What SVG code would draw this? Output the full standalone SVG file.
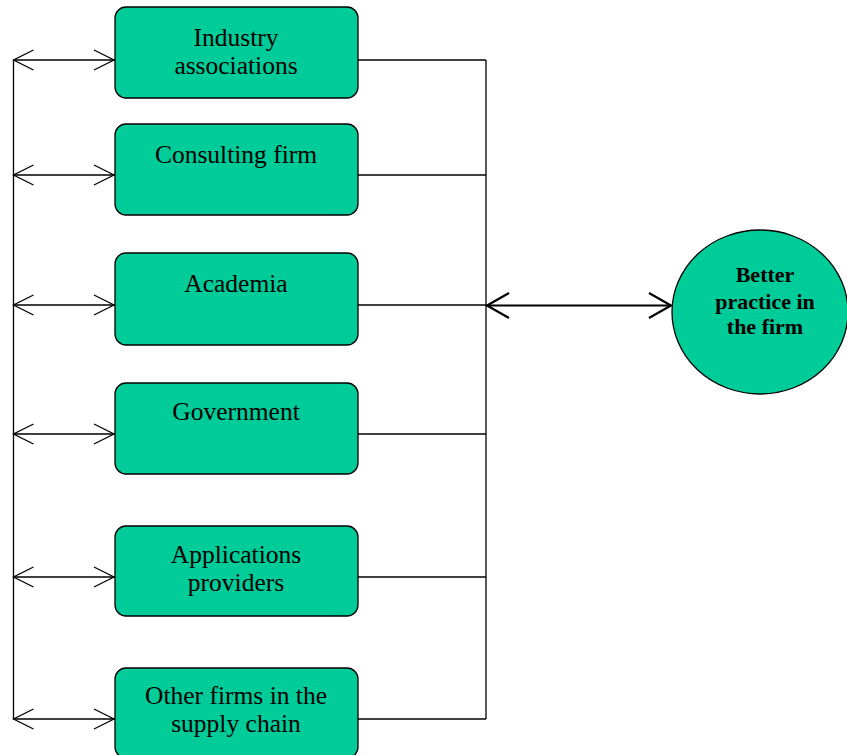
<svg xmlns="http://www.w3.org/2000/svg" width="847" height="755" viewBox="0 0 847 755">
<style>
.box{fill:#00CC99;stroke:#000;stroke-width:1.3}
.t{font-family:"Liberation Serif",serif;font-size:25.5px;text-anchor:middle;fill:#000}
.tb{font-family:"Liberation Serif",serif;font-size:22px;font-weight:bold;text-anchor:middle;fill:#000}
.ln{stroke:#000;stroke-width:1.3;fill:none}
.ah{stroke:#000;stroke-width:1.3;fill:none}
.lnb{stroke:#000;stroke-width:2.2;fill:none}
</style>
<rect width="847" height="755" fill="#fff"/>
<g id="connectors">
<line class="ln" x1="13.5" y1="60" x2="13.5" y2="719"/>
<line class="ln" x1="486" y1="60" x2="486" y2="719"/>
<g id="left-links">
<line class="ln" x1="13.5" y1="60" x2="115" y2="60"/>
<line class="ln" x1="13.5" y1="175" x2="115" y2="175"/>
<line class="ln" x1="13.5" y1="305" x2="115" y2="305"/>
<line class="ln" x1="13.5" y1="434" x2="115" y2="434"/>
<line class="ln" x1="13.5" y1="577" x2="115" y2="577"/>
<line class="ln" x1="13.5" y1="719" x2="115" y2="719"/>
<path class="ah" d="M33.5,50 L13.5,60 L33.5,70 M94,50 L114,60 L94,70"/>
<path class="ah" d="M33.5,165 L13.5,175 L33.5,185 M94,165 L114,175 L94,185"/>
<path class="ah" d="M33.5,295 L13.5,305 L33.5,315 M94,295 L114,305 L94,315"/>
<path class="ah" d="M33.5,424 L13.5,434 L33.5,444 M94,424 L114,434 L94,444"/>
<path class="ah" d="M33.5,567 L13.5,577 L33.5,587 M94,567 L114,577 L94,587"/>
<path class="ah" d="M33.5,709 L13.5,719 L33.5,729 M94,709 L114,719 L94,729"/>
</g>
<g id="right-links">
<line class="ln" x1="358" y1="60" x2="486" y2="60"/>
<line class="ln" x1="358" y1="175" x2="486" y2="175"/>
<line class="ln" x1="358" y1="305" x2="486" y2="305"/>
<line class="ln" x1="358" y1="434" x2="486" y2="434"/>
<line class="ln" x1="358" y1="577" x2="486" y2="577"/>
<line class="ln" x1="358" y1="719" x2="486" y2="719"/>
</g>
<g id="main-link">
<line class="lnb" x1="487" y1="305.5" x2="671" y2="305.5"/>
<path class="lnb" d="M509,293 L487,305.5 L509,318 M649,293 L671,305.5 L649,318"/>
</g>
</g>
<g id="n1"><rect class="box" x="115" y="7" width="243" height="91" rx="11"/><text class="t" x="236" y="46">Industry</text><text class="t" x="236" y="74">associations</text></g>
<g id="n2"><rect class="box" x="115" y="124" width="243" height="91" rx="11"/><text class="t" x="236" y="163">Consulting firm</text></g>
<g id="n3"><rect class="box" x="115" y="253" width="243" height="92" rx="11"/><text class="t" x="236" y="292">Academia</text></g>
<g id="n4"><rect class="box" x="115" y="383" width="243" height="91" rx="11"/><text class="t" x="236" y="420">Government</text></g>
<g id="n5"><rect class="box" x="115" y="526" width="243" height="90" rx="11"/><text class="t" x="236" y="563">Applications</text><text class="t" x="236" y="591">providers</text></g>
<g id="n6"><rect class="box" x="115" y="668" width="243" height="90" rx="11"/><text class="t" x="236" y="704">Other firms in the</text><text class="t" x="236" y="732">supply chain</text></g>
<g id="n7"><ellipse class="box" cx="760" cy="312" rx="88" ry="82"/><text class="tb" x="765" y="282">Better</text><text class="tb" x="765" y="309">practice in</text><text class="tb" x="765" y="334">the firm</text></g>
</svg>
